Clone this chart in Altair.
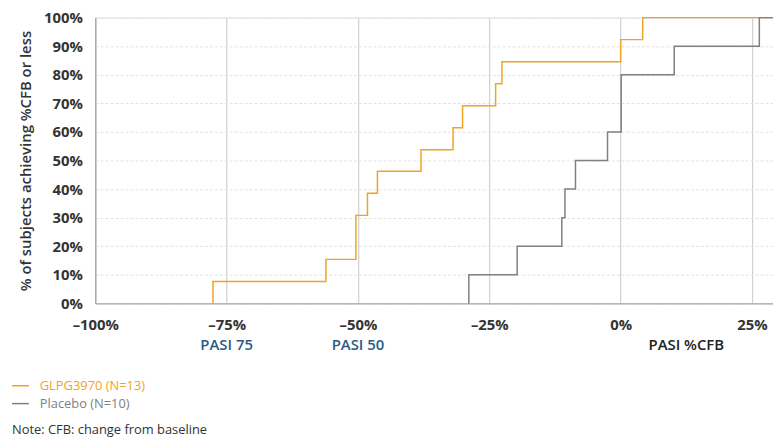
import altair as alt
import pandas as pd

# ---- data ----
series_names = ["GLPG3970 (N=13)", "Placebo (N=10)"]
series_colors = ["#EFA424", "#808080"]

glpg_x = [-77.6, -56.1, -50.4, -48.2, -46.3, -38.0, -31.9, -30.1, -23.8, -22.6, 0.0, 4.2]
glpg_y = [7.7, 15.4, 30.8, 38.5, 46.2, 53.8, 61.5, 69.2, 76.9, 84.6, 92.3, 100.0]
placebo_x = [-28.9, -19.7, -11.2, -10.6, -8.6, -2.5, 0.1, 10.2, 26.4]
placebo_y = [10, 20, 30, 40, 50, 60, 80, 90, 100]
x_end = 29

x_ticks = [-100, -75, -50, -25, 0, 25]
y_ticks = [0, 10, 20, 30, 40, 50, 60, 70, 80, 90, 100]

pasi_labels = ["PASI 75", "PASI 50"]
pasi_x = [-75, -50]
axis_label_text = "PASI %CFB"
axis_label_x = 12.5

FONT = "Open Sans"

rows = []
for name, xs, ys in [(series_names[0], glpg_x, glpg_y), (series_names[1], placebo_x, placebo_y)]:
    order = 0
    rows.append({"series": name, "x": xs[0], "y": 0, "order": order})
    for xv, yv in zip(xs, ys):
        order += 1
        rows.append({"series": name, "x": xv, "y": yv, "order": order})
    rows.append({"series": name, "x": x_end, "y": 100, "order": order + 1})
df = pd.DataFrame(rows)

color_scale = alt.Scale(domain=series_names, range=series_colors)

lines = alt.Chart(df).mark_line(interpolate="step-after", strokeWidth=1.5).encode(
    x=alt.X("x:Q", scale=alt.Scale(domain=[-100, x_end], nice=False, zero=False),
            axis=alt.Axis(values=x_ticks, title=None,
                          labelExpr="(datum.value < 0 ? '–' + abs(datum.value) : datum.value) + '%'",
                          labelFlush=False, labelOverlap=False,
                          grid=True, gridColor="#c8c8c8", gridWidth=1,
                          domainColor="#999999", ticks=False, labelPadding=14,
                          labelFont=FONT, labelFontSize=15, labelFontWeight=700,
                          labelColor="#333333")),
    y=alt.Y("y:Q", scale=alt.Scale(domain=[0, 100], nice=False),
            axis=alt.Axis(values=y_ticks, title="% of subjects achieving %CFB or less",
                          labelExpr="datum.value + '%'",
                          grid=True, gridColor="#e2e2e2", gridDash=[3, 2], gridWidth=1,
                          domainColor="#999999", ticks=False, labelPadding=13,
                          labelFont=FONT, labelFontSize=15, labelFontWeight=700,
                          labelColor="#333333",
                          titleFont=FONT, titleFontSize=15, titleFontWeight=600,
                          titleColor="#333333", titlePadding=10)),
    color=alt.Color("series:N", scale=color_scale, legend=None),
    order=alt.Order("order:Q"),
    detail="series:N",
)

pasi_df = pd.DataFrame({"x": pasi_x, "label": pasi_labels})
pasi = alt.Chart(pasi_df).mark_text(font=FONT, fontSize=15, fontWeight=600, color="#2a5b87",
                                    baseline="middle", align="center").encode(
    x="x:Q", y=alt.value(330), text="label:N")

cfb_df = pd.DataFrame({"x": [axis_label_x], "label": [axis_label_text]})
cfb = alt.Chart(cfb_df).mark_text(font=FONT, fontSize=15, fontWeight=600, color="#222222",
                                  baseline="middle", align="center").encode(
    x="x:Q", y=alt.value(330), text="label:N")

layers = [lines, pasi, cfb]
legend_y = [371, 389]
for name, col, ly in zip(series_names, series_colors, legend_y):
    ldf = pd.DataFrame({"series": [name]})
    layers.append(alt.Chart(ldf).mark_rule(strokeWidth=1.5, color=col).encode(
        x=alt.value(-84), x2=alt.value(-67), y=alt.value(ly)))
    layers.append(alt.Chart(ldf).mark_text(font=FONT, fontSize=13, color=col,
                                           align="left", baseline="middle").encode(
        x=alt.value(-56), y=alt.value(ly), text="series:N"))

note_df = pd.DataFrame({"t": ["Note: CFB: change from baseline"]})
layers.append(alt.Chart(note_df).mark_text(font=FONT, fontSize=13, color="#333333",
                                           align="left", baseline="middle").encode(
    x=alt.value(-84), y=alt.value(416), text="t:N"))

chart = alt.layer(*layers).properties(
    width=683, height=288,
    autosize=alt.AutoSizeParams(type="none"),
    padding={"left": 88, "top": 8, "right": 0, "bottom": 138},
).configure_view(stroke=None).configure(background="white")

chart.save("out.html", embed_options={"renderer": "svg", "actions": False})
